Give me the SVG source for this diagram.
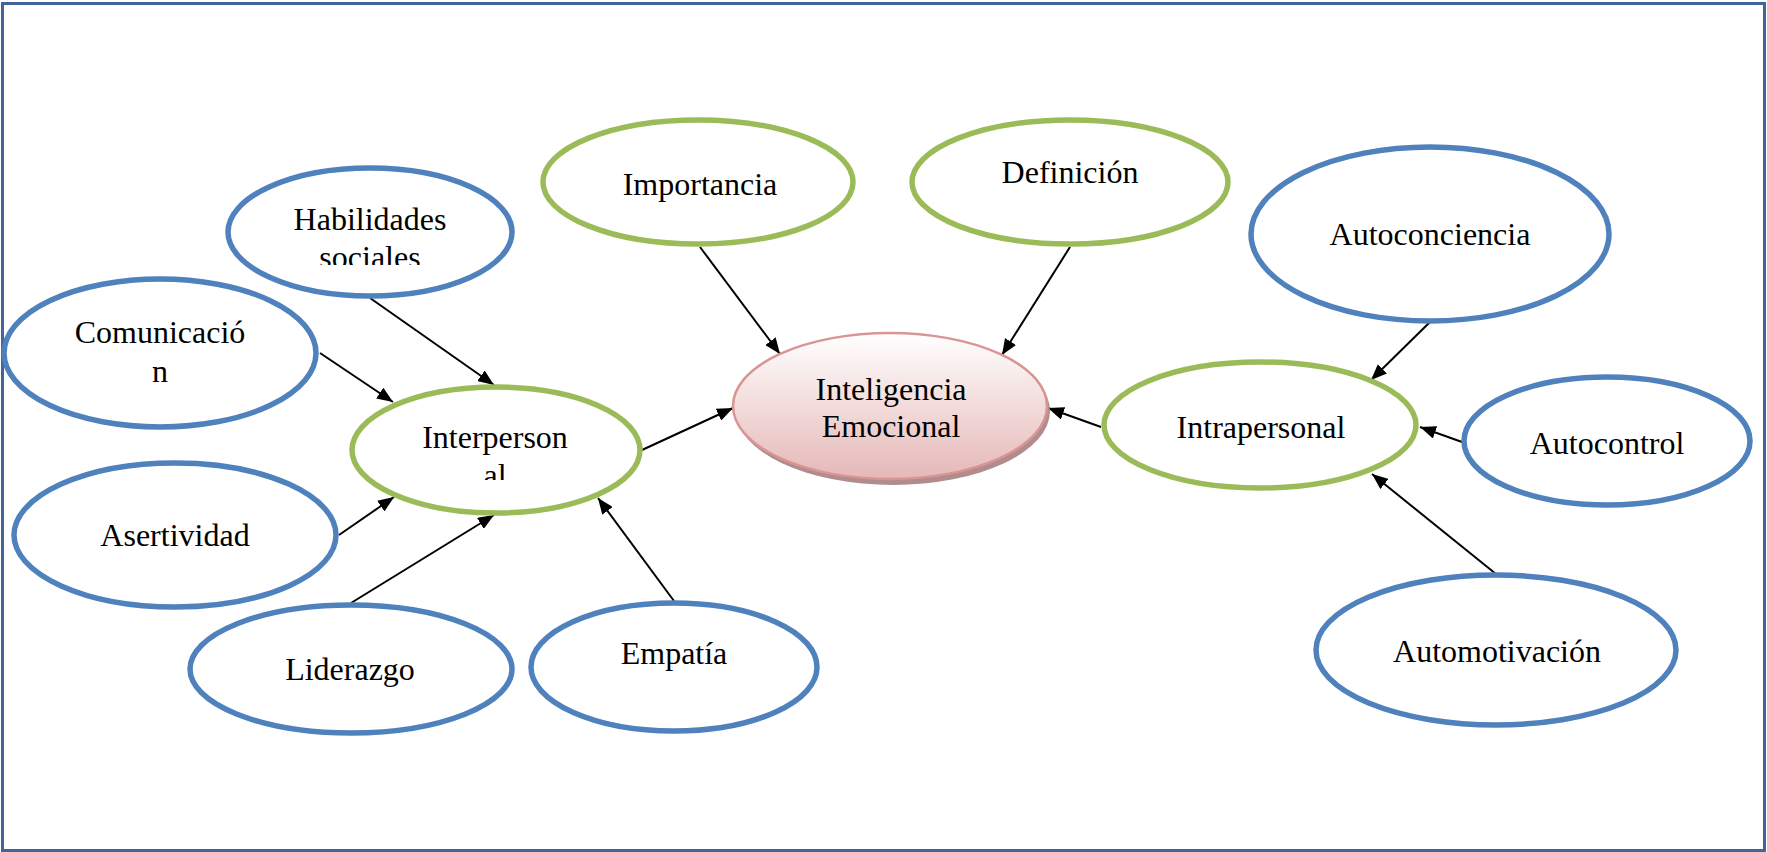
<svg xmlns="http://www.w3.org/2000/svg" width="1767" height="852" viewBox="0 0 1767 852">
<defs>
<style>
.blue{fill:#ffffff;stroke:#4f81bd;stroke-width:5.5}
.green{fill:#ffffff;stroke:#9bbb59;stroke-width:5.5}
.t{font-family:"Liberation Serif","Times New Roman",serif;font-size:32px;fill:#000;text-anchor:middle}
.c{stroke:#000;stroke-width:2;fill:none;marker-end:url(#ah)}
</style>
<marker id="ah" markerUnits="userSpaceOnUse" markerWidth="17" markerHeight="13" refX="16" refY="6.5" orient="auto">
<path d="M0,0 L16,6.5 L0,13 z" fill="#000"/>
</marker>
<linearGradient id="pg" x1="0" y1="0" x2="0" y2="1">
<stop offset="0" stop-color="#ffffff"/>
<stop offset="1" stop-color="#e5b8b7"/>
</linearGradient>
<clipPath id="clipHab"><rect x="220" y="160" width="300" height="105"/></clipPath>
<clipPath id="clipInter"><rect x="340" y="380" width="310" height="100"/></clipPath>
</defs>
<rect x="2.5" y="3.5" width="1762" height="847" fill="#ffffff" stroke="#41659a" stroke-width="3"/>
<g id="connectors">
<line class="c" x1="370" y1="298" x2="494" y2="385"/>
<line class="c" x1="320" y1="353" x2="393" y2="402"/>
<line class="c" x1="339" y1="535" x2="394" y2="497"/>
<line class="c" x1="351" y1="603" x2="494" y2="515"/>
<line class="c" x1="674" y1="601" x2="598" y2="498"/>
<line class="c" x1="642" y1="450" x2="733" y2="408"/>
<line class="c" x1="700" y1="247" x2="780" y2="354"/>
<line class="c" x1="1070" y1="247" x2="1002" y2="355"/>
<line class="c" x1="1101" y1="427" x2="1048" y2="408"/>
<line class="c" x1="1430" y1="322" x2="1371" y2="380"/>
<line class="c" x1="1462" y1="442" x2="1420" y2="427"/>
<line class="c" x1="1496" y1="574" x2="1372" y2="474"/>
</g>
<g id="n-inteligencia">
<ellipse cx="893" cy="411" rx="157" ry="74" fill="#b08c8c"/>
<ellipse cx="890" cy="406" rx="157" ry="73" fill="url(#pg)" stroke="#d99594" stroke-width="2.5"/>
<text class="t" x="891" y="400">Inteligencia</text>
<text class="t" x="891" y="437">Emocional</text>
</g>
<g id="n-importancia">
<ellipse class="green" cx="698" cy="182" rx="155" ry="62"/>
<text class="t" x="700" y="195">Importancia</text>
</g>
<g id="n-definicion">
<ellipse class="green" cx="1070" cy="182" rx="158" ry="62"/>
<text class="t" x="1070" y="183">Definición</text>
</g>
<g id="n-interpersonal">
<ellipse class="green" cx="496" cy="450" rx="144" ry="63"/>
<g clip-path="url(#clipInter)">
<text class="t" x="495" y="448">Interperson</text>
<text class="t" x="495" y="486">al</text>
</g>
</g>
<g id="n-intrapersonal">
<ellipse class="green" cx="1260" cy="425" rx="156" ry="63"/>
<text class="t" x="1261" y="438">Intrapersonal</text>
</g>
<g id="n-habilidades">
<ellipse class="blue" cx="370" cy="232" rx="142" ry="64"/>
<g clip-path="url(#clipHab)">
<text class="t" x="370" y="230">Habilidades</text>
<text class="t" x="370" y="268">sociales</text>
</g>
</g>
<g id="n-comunicacion">
<ellipse class="blue" cx="160" cy="353" rx="156" ry="74"/>
<text class="t" x="160" y="343">Comunicació</text>
<text class="t" x="160" y="382">n</text>
</g>
<g id="n-asertividad">
<ellipse class="blue" cx="175" cy="535" rx="161" ry="72"/>
<text class="t" x="175" y="546">Asertividad</text>
</g>
<g id="n-liderazgo">
<ellipse class="blue" cx="351" cy="669" rx="161" ry="64"/>
<text class="t" x="350" y="680">Liderazgo</text>
</g>
<g id="n-empatia">
<ellipse class="blue" cx="674" cy="667" rx="143" ry="64"/>
<text class="t" x="674" y="664">Empatía</text>
</g>
<g id="n-autoconciencia">
<ellipse class="blue" cx="1430" cy="234" rx="179" ry="87"/>
<text class="t" x="1430" y="245">Autoconciencia</text>
</g>
<g id="n-autocontrol">
<ellipse class="blue" cx="1607" cy="441" rx="143" ry="64"/>
<text class="t" x="1607" y="454">Autocontrol</text>
</g>
<g id="n-automotivacion">
<ellipse class="blue" cx="1496" cy="650" rx="180" ry="75"/>
<text class="t" x="1497" y="662">Automotivación</text>
</g>
</svg>
